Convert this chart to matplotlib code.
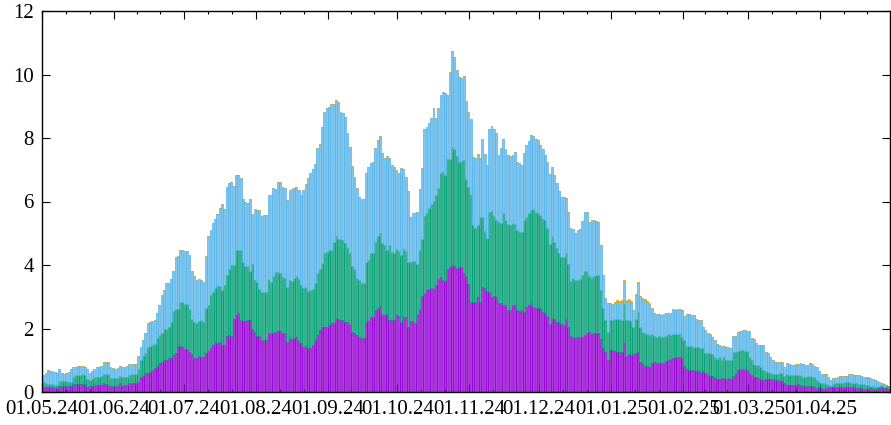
import matplotlib
matplotlib.use('Agg')
import matplotlib.pyplot as plt
import numpy as np
from datetime import date

# Daily stacked bars, 01.05.24 - 30.04.25
START = date(2024, 5, 1)
END = date(2025, 5, 1)

# cumulative top of each layer (one value per day)
purple_top = [
    0.17, 0.17, 0.15, 0.15, 0.15, 0.14, 0.12, 0.19, 0.19, 0.19,
    0.19, 0.18, 0.2, 0.24, 0.24, 0.25, 0.24, 0.24, 0.24, 0.15,
    0.19, 0.2, 0.22, 0.22, 0.22, 0.23, 0.27, 0.26, 0.22, 0.2,
    0.2, 0.19, 0.2, 0.29, 0.19, 0.22, 0.22, 0.27, 0.27, 0.27,
    0.28, 0.33, 0.48, 0.5, 0.59, 0.61, 0.64, 0.69, 0.77, 0.82,
    0.9,
    0.93, 1.0, 1.0, 1.06, 1.06, 1.17, 1.24, 1.45, 1.45, 1.41,
    1.36, 1.36, 1.27, 1.19, 1.06, 1.06, 1.12, 1.09, 1.09, 1.22,
    1.3, 1.38, 1.48, 1.56, 1.54, 1.59, 1.48, 1.48, 1.75, 1.8,
    1.77, 2.29, 2.43, 2.5, 2.27, 2.24, 2.24, 2.27, 2.27, 1.98,
    1.9, 1.75, 1.75, 1.64, 1.64, 1.64, 1.87, 1.87, 1.87, 1.89,
    1.93, 1.93,
    1.85, 1.85, 1.59, 1.69, 1.66, 1.69, 1.74, 1.62, 1.53, 1.43,
    1.45, 1.38, 1.4, 1.48, 1.64, 1.8, 1.95, 2.04, 2.04, 2.06,
    2.11, 2.18, 2.18, 2.32, 2.29, 2.27, 2.27, 2.22, 2.22, 2.11,
    1.9, 1.85, 1.8, 1.74, 1.69, 1.69, 2.22, 2.25, 2.35, 2.35,
    2.58, 2.64, 2.71, 2.43, 2.43, 2.45, 2.27, 2.27, 2.27, 2.41,
    2.4,
    2.22, 2.37, 2.35, 2.06, 2.24, 2.24, 2.18, 2.43, 2.6, 3.02,
    3.09, 3.21, 3.24, 3.27, 3.23, 3.37, 3.55, 3.61, 3.53, 3.51,
    3.86, 3.95, 4.0, 3.97, 3.92, 3.95, 3.93, 3.74, 3.61, 3.39,
    2.85, 2.82, 2.85, 3.0, 2.85, 3.32, 3.27, 3.19, 3.14, 3.0,
    3.02, 3.0, 2.79, 2.79, 2.74, 2.74, 2.58, 2.58, 2.74, 2.74,
    2.58, 2.55,
    2.58, 2.53, 2.69, 2.74, 2.81, 2.69, 2.64, 2.64, 2.64, 2.53,
    2.5, 2.39, 2.14, 2.32, 2.3, 2.19, 2.22, 2.14, 2.11, 2.29,
    2.06, 1.76, 1.74, 1.69, 1.72, 1.72, 1.74, 1.8, 1.87, 1.9,
    1.83, 1.85, 1.85, 1.85, 1.66, 1.38, 1.27, 1.01, 1.32, 1.32,
    1.3, 1.27, 1.27, 1.25, 1.55, 1.13, 1.2, 1.17, 1.2, 1.24,
    1.27, 0.96,
    0.9, 0.82, 0.82, 0.8, 0.92, 0.96, 0.9, 0.9, 0.92, 0.9,
    0.99, 1.01, 1.03, 1.06, 1.09, 1.11, 1.11, 1.08, 0.82, 0.71,
    0.69, 0.69, 0.69, 0.67, 0.69, 0.64, 0.66, 0.59, 0.54, 0.5,
    0.5, 0.43, 0.42, 0.4, 0.43, 0.43, 0.42, 0.43, 0.4, 0.5,
    0.57, 0.69, 0.71, 0.71, 0.71, 0.69, 0.61, 0.54, 0.48, 0.48,
    0.43, 0.4,
    0.38, 0.4, 0.4, 0.4, 0.4, 0.38, 0.38, 0.38, 0.36, 0.27,
    0.22, 0.22, 0.22, 0.22, 0.23, 0.24, 0.22, 0.2, 0.2, 0.19,
    0.19, 0.19, 0.15, 0.12, 0.15, 0.12, 0.08, 0.12, 0.15, 0.15,
    0.15, 0.15, 0.15, 0.15, 0.15, 0.17, 0.15, 0.17, 0.15, 0.15,
    0.12, 0.12, 0.12, 0.08, 0.08, 0.08, 0.12, 0.08, 0.06, 0.12,
    0.12, 0.15, 0.12, 0.12, 0.1,
]

green_top = [
    0.3, 0.29, 0.25, 0.25, 0.25, 0.22, 0.22, 0.36, 0.35, 0.35,
    0.35, 0.33, 0.33, 0.48, 0.54, 0.54, 0.55, 0.56, 0.54, 0.4,
    0.38, 0.42, 0.46, 0.48, 0.48, 0.49, 0.56, 0.56, 0.56, 0.45,
    0.43, 0.43, 0.43, 0.5, 0.46, 0.46, 0.46, 0.54, 0.56, 0.56,
    0.56, 0.72, 1.01, 1.12, 1.22, 1.43, 1.45, 1.48, 1.52, 1.7,
    1.8,
    1.85, 2.0, 2.0, 2.05, 2.22, 2.55, 2.6, 2.62, 2.82, 2.82,
    2.76, 2.76, 2.6, 2.3, 2.22, 2.17, 2.25, 2.27, 2.22, 2.64,
    2.75, 3.04, 3.14, 3.27, 3.33, 3.35, 3.22, 3.38, 3.67, 3.87,
    4.0, 4.0, 4.46, 4.46, 4.46, 4.08, 3.96, 3.96, 3.82, 4.03,
    3.54, 3.45, 3.24, 3.14, 3.14, 3.14, 3.56, 3.48, 3.64, 3.77,
    3.77, 3.75,
    3.63, 3.58, 3.3, 3.53, 3.51, 3.58, 3.65, 3.55, 3.37, 3.27,
    3.32, 3.18, 3.21, 3.23, 3.42, 3.76, 3.86, 4.07, 4.37, 4.42,
    4.47, 4.47, 4.71, 4.92, 4.82, 4.82, 4.79, 4.68, 4.52, 4.37,
    3.97, 3.86, 3.58, 3.53, 3.42, 3.42, 4.1, 4.16, 4.37, 4.39,
    4.71, 4.91, 5.0, 4.68, 4.63, 4.47, 4.63, 4.42, 4.39, 4.49,
    4.45,
    4.31, 4.49, 4.45, 4.1, 4.1, 4.14, 4.14, 4.03, 4.47, 4.81,
    5.54, 5.63, 5.78, 5.91, 6.03, 6.2, 6.41, 6.89, 6.94, 6.83,
    7.33, 7.33, 7.71, 7.64, 7.44, 7.25, 7.29, 7.31, 6.7, 6.47,
    6.2, 5.26, 5.15, 5.26, 5.52, 5.52, 5.08, 4.84, 5.68, 5.7,
    5.54, 5.42, 5.36, 5.31, 5.65, 5.42, 5.29, 5.26, 5.33, 5.29,
    5.1, 5.05,
    5.05, 5.42, 5.52, 5.63, 5.73, 5.76, 5.68, 5.65, 5.57, 5.44,
    5.42, 5.15, 4.66, 4.91, 4.73, 4.52, 4.39, 4.26, 4.26, 4.37,
    4.03, 3.51, 3.58, 3.53, 3.53, 3.55, 3.69, 3.82, 3.82, 3.65,
    3.58, 3.65, 3.67, 3.69, 3.21, 2.64, 2.27, 1.9, 2.27, 2.27,
    2.29, 2.29, 2.29, 2.27, 2.77, 2.27, 2.27, 2.25, 2.06, 2.29,
    2.51, 2.06,
    1.9, 1.85, 1.83, 1.8, 1.83, 1.76, 1.72, 1.76, 1.74, 1.74,
    1.76, 1.83, 1.8, 1.83, 1.83, 1.83, 1.83, 1.74, 1.64, 1.45,
    1.45, 1.45, 1.43, 1.41, 1.41, 1.38, 1.38, 1.24, 1.22, 1.22,
    1.2, 1.11, 1.03, 1.09, 1.01, 1.11, 1.01, 1.01, 1.01, 1.27,
    1.27, 1.3, 1.32, 1.32, 1.3, 1.3, 1.11, 1.01, 0.88, 0.85,
    0.85, 0.8,
    0.69, 0.67, 0.64, 0.59, 0.57, 0.57, 0.57, 0.61, 0.61, 0.5,
    0.57, 0.54, 0.54, 0.54, 0.54, 0.54, 0.54, 0.48, 0.48, 0.5,
    0.5, 0.48, 0.46, 0.38, 0.33, 0.29, 0.27, 0.25, 0.22, 0.19,
    0.25, 0.27, 0.29, 0.29, 0.29, 0.31, 0.31, 0.33, 0.29, 0.27,
    0.27, 0.25, 0.25, 0.25, 0.22, 0.22, 0.19, 0.19, 0.17, 0.15,
    0.19, 0.22, 0.17, 0.22, 0.19,
]

blue_top = [
    0.54, 0.6, 0.69, 0.66, 0.66, 0.62, 0.6, 0.72, 0.59, 0.58,
    0.6, 0.62, 0.73, 0.8, 0.8, 0.83, 0.82, 0.82, 0.8, 0.72,
    0.59, 0.67, 0.73, 0.8, 0.8, 0.82, 0.93, 0.96, 0.93, 0.8,
    0.75, 0.72, 0.75, 0.83, 0.8, 0.8, 0.83, 0.87, 0.87, 0.87,
    0.88, 1.14, 1.43, 1.64, 1.85, 2.17, 2.22, 2.25, 2.27, 2.48,
    2.75,
    3.06, 3.2, 3.43, 3.43, 3.55, 3.8, 4.25, 4.27, 4.48, 4.48,
    4.43, 4.43, 4.3, 3.8, 3.64, 3.53, 3.55, 3.53, 3.45, 4.27,
    4.9, 5.1, 5.33, 5.46, 5.6, 5.8, 5.93, 5.77, 6.46, 6.59,
    6.61, 6.5, 6.85, 6.85, 6.75, 6.08, 6.0, 5.96, 6.08, 5.62,
    5.75, 5.72, 5.73, 5.54, 5.56, 5.58, 6.19, 6.22, 6.43, 6.38,
    6.6, 6.62,
    6.47, 6.41, 6.05, 6.36, 6.39, 6.41, 6.45, 6.36, 6.2, 6.36,
    6.55, 6.75, 6.91, 7.01, 7.17, 7.67, 7.8, 8.36, 8.81, 8.93,
    8.97, 9.07, 9.07, 9.2, 9.14, 8.83, 8.78, 8.67, 8.15, 7.73,
    7.12, 6.76, 6.41, 6.15, 6.07, 6.07, 6.89, 7.1, 7.2, 7.23,
    7.67, 7.94, 8.06, 7.52, 7.38, 7.43, 7.36, 7.15, 7.08, 6.99,
    6.9,
    7.04, 7.01, 6.78, 6.34, 5.52, 5.63, 5.65, 5.68, 6.38, 7.04,
    8.27, 8.34, 8.46, 8.62, 8.96, 8.64, 8.93, 9.35, 9.46, 9.43,
    9.35, 10.09, 10.74, 10.54, 10.14, 9.91, 9.9, 9.96, 9.17, 8.83,
    8.6, 7.39, 7.36, 7.49, 7.36, 7.96, 7.5, 7.15, 8.27, 8.38,
    8.27, 8.15, 7.46, 7.67, 7.97, 7.64, 7.46, 7.43, 7.46, 7.57,
    7.25, 7.2,
    7.15, 7.52, 7.78, 7.92, 8.09, 8.06, 7.96, 7.94, 7.78, 7.64,
    7.46, 7.25, 6.87, 7.08, 6.83, 6.57, 6.34, 6.15, 6.15, 6.1,
    5.68, 5.15, 5.12, 5.02, 5.1, 5.12, 5.4, 5.68, 5.68, 5.36,
    5.42, 5.42, 5.4, 5.36, 4.63, 3.69, 2.95, 2.79, 2.79, 2.77,
    2.81, 2.85, 2.85, 2.85, 3.48, 2.85, 2.88, 2.85, 2.58, 3.06,
    3.42, 3.02,
    2.95, 2.9, 2.85, 2.77, 2.64, 2.5, 2.46, 2.46, 2.43, 2.46,
    2.48, 2.5, 2.5, 2.6, 2.58, 2.6, 2.6, 2.58, 2.39, 2.46,
    2.46, 2.43, 2.43, 2.29, 2.27, 2.27, 2.06, 1.95, 1.87, 1.83,
    1.74, 1.64, 1.51, 1.48, 1.45, 1.45, 1.43, 1.41, 1.38, 1.76,
    1.76, 1.9, 1.93, 1.95, 1.95, 1.93, 1.93, 1.69, 1.66, 1.53,
    1.48, 1.48,
    1.48, 1.27, 1.24, 1.11, 1.01, 0.96, 0.96, 0.96, 0.96, 0.78,
    0.9, 0.88, 0.85, 0.85, 0.87, 0.87, 0.92, 0.87, 0.85, 0.85,
    0.9, 0.88, 0.82, 0.8, 0.66, 0.57, 0.57, 0.57, 0.46, 0.38,
    0.43, 0.45, 0.48, 0.5, 0.5, 0.5, 0.5, 0.57, 0.57, 0.54,
    0.54, 0.54, 0.5, 0.48, 0.46, 0.46, 0.43, 0.4, 0.38, 0.36,
    0.33, 0.29, 0.25, 0.22, 0.2,
]

# thin fourth layer, only visible around new year
orange_days = [246, 247, 248, 249, 250, 251, 252, 253, 255, 256, 259, 260, 261]
orange_vals = [0.04, 0.04, 0.03, 0.04, 0.05, 0.04, 0.04, 0.03, 0.04, 0.05, 0.03, 0.03, 0.03]

TICK_DATES = [date(2024, m, 1) for m in range(5, 13)] + [date(2025, m, 1) for m in range(1, 5)]

COLORS = ['#9400d3', '#009e73', '#56b4e9', '#e69f00']


def day_of(d):
    return (d - START).days


def main():
    n = (END - START).days
    p = np.array(purple_top)
    g = np.maximum(np.array(green_top), p)
    b = np.maximum(np.array(blue_top), g)
    o = np.zeros(n)
    o[orange_days] = orange_vals
    layers = [(np.zeros(n), p), (p, g), (g, b), (b, b + o)]

    plt.rcParams['font.family'] = ['Liberation Serif', 'DejaVu Serif']
    fig = plt.figure(figsize=(8.91, 4.25), dpi=100)
    ax = fig.add_axes([42 / 891, 33 / 425, 848 / 891, 381 / 425])
    ax.set_axisbelow(True)  # bars hide the bottom ticks, as in gnuplot

    x = np.arange(n) + 0.5
    for (lo, hi), c in zip(layers, COLORS):
        rgb = matplotlib.colors.to_rgb(c)
        ax.bar(x, hi - lo, bottom=lo, width=0.8, facecolor=rgb + (0.75,),
               edgecolor=c, linewidth=0.5)

    ax.set_xlim(0, n)
    ax.set_ylim(0, 12)
    ax.set_yticks(range(0, 13, 2))

    major = [day_of(d) for d in TICK_DATES]
    ax.set_xticks(major)
    ax.set_xticklabels([d.strftime('%d.%m.%y') for d in TICK_DATES])
    bounds = major + [n]
    minor = []
    for a, z in zip(bounds[:-1], bounds[1:]):
        minor += [a + (z - a) / 3, a + 2 * (z - a) / 3]
    ax.set_xticks(minor, minor=True)

    ax.tick_params(which='major', direction='in', top=True, right=True,
                   length=5.5, width=0.8, labelsize=15, pad=6)
    ax.tick_params(which='minor', direction='in', top=True, right=True,
                   length=2.5, width=0.8)
    for s in ax.spines.values():
        s.set_linewidth(1.0)
        s.set_zorder(3)

    fig.savefig('out.png', dpi=100)


if __name__ == '__main__':
    main()
